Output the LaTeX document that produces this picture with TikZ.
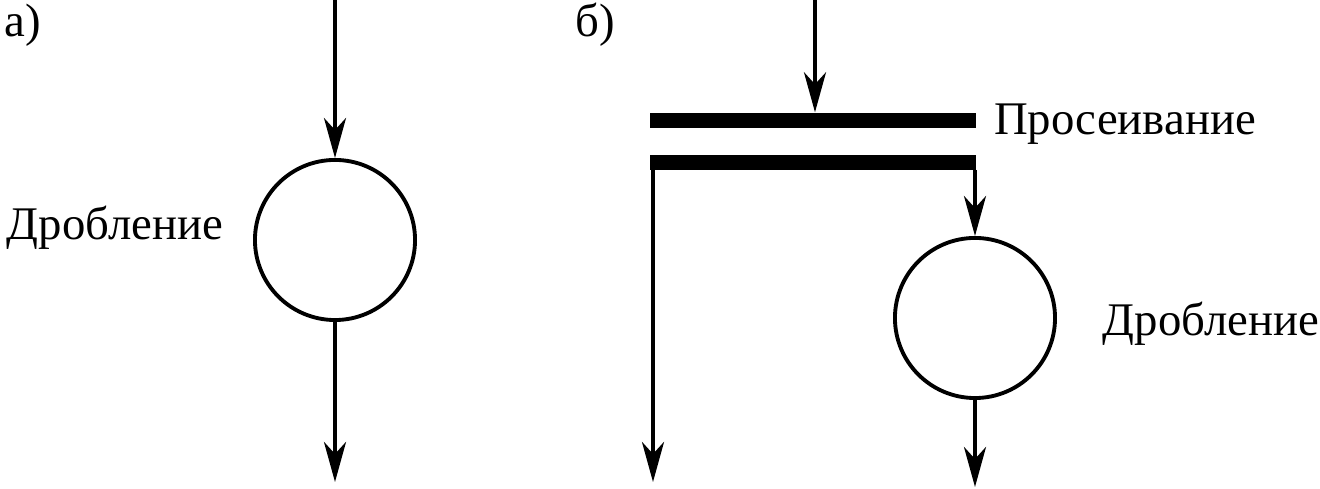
\documentclass[tikz,border=0pt]{standalone}
\usepackage{fontspec}
\setmainfont{Liberation Serif}
\usetikzlibrary{arrows.meta}

\begin{document}
\begin{tikzpicture}[
    x=0.01cm, y=-0.01cm,
    font=\fontsize{13.3}{16}\selectfont,
    % Styles
    mill_node/.style={circle, draw, line width=1.1pt, minimum size=1.6cm, inner sep=0pt},
    screen_bar/.style={rectangle, fill=black, minimum width=3.25cm, minimum height=0.15cm, inner sep=0pt},
    flow_line/.style={line width=1.1pt, -{Stealth[length=4mm, width=2.2mm, inset=1.2mm]}},
    plain_line/.style={line width=1.1pt}
]
    \useasboundingbox (0,0) rectangle (1320,489);

    % ==========================================
    % 1. SCHEME A: crushing only
    % ==========================================
    \node at (23,25) {а)};
    \coordinate (inA) at (335,0);
    \coordinate (outA) at (335,482);
    \node[mill_node] (millA) at (335,240) {};
    \node[inner sep=0pt] (labelA) at (115,228) {Дробление};

    \draw[flow_line] (inA) -- (millA.north);
    \draw[flow_line] (millA.south) -- (outA);

    % ==========================================
    % 2. SCHEME B: screening, then crushing
    % ==========================================
    \node at (595,25) {б)};
    \node[screen_bar] (deckT) at (813,120.5) {};
    \node[screen_bar] (deckB) at (813,162.5) {};
    \node[inner sep=0pt] (labelScreen) at (1125,124) {Просеивание};

    \coordinate (inB) at (815,0);
    \coordinate (overB) at (975,170);
    \coordinate (underB) at (653,170);
    \coordinate (underOut) at (653,482);
    \coordinate (millOut) at (975,487);

    \node[mill_node] (millB) at (975,318) {};
    \node[inner sep=0pt] (labelB) at (1211,324) {Дробление};

    \draw[flow_line] (inB) -- (inB |- deckT.north);
    \draw[flow_line] (overB) -- (millB.north);
    \draw[flow_line] (underB) -- (underOut);
    \draw[flow_line] (millB.south) -- (millOut);

\end{tikzpicture}
\end{document}
